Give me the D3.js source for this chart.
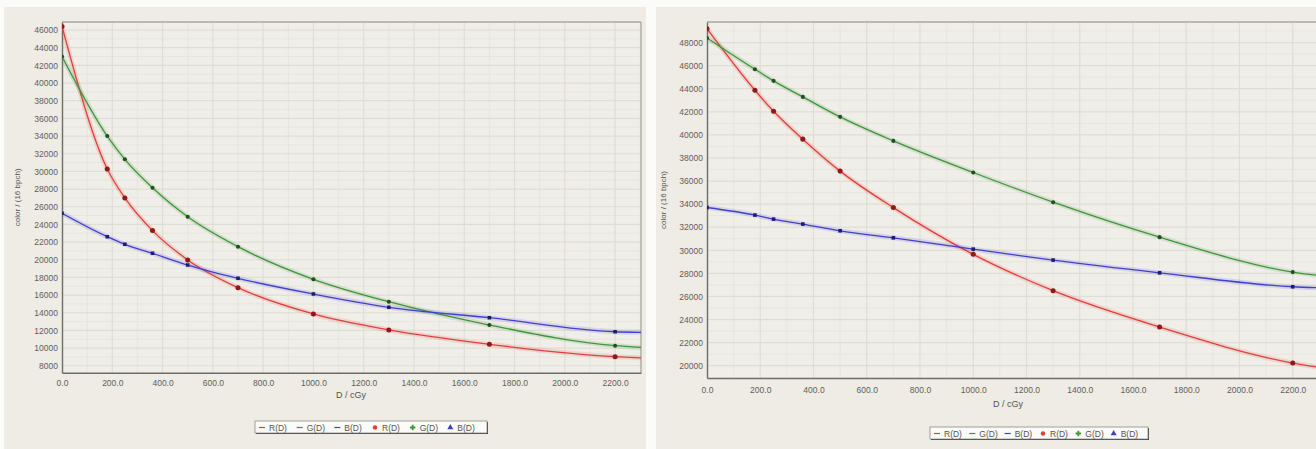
<!DOCTYPE html>
<html>
<head>
<meta charset="utf-8">
<script src="https://cdn.jsdelivr.net/npm/d3@7"></script>
<style>
  body { margin: 0; background: #fbfbf9; }
  svg { display: block; font-family: "Liberation Sans", Arial, sans-serif; }
</style>
</head>
<body>
<svg id="chart" width="1316" height="449"></svg>
<script>
// dose values (cGy) where the samples were measured
const doses = [0, 180, 250, 360, 500, 700, 1000, 1300, 1700, 2200];

// left chart
const leftR = [46400, 30270, 27000, 23300, 19980, 16840, 13860, 12050, 10430, 9030];
const leftG = [43000, 34000, 31370, 28150, 24870, 21480, 17790, 15250, 12610, 10270];
const leftB = [25260, 22610, 21750, 20730, 19400, 17900, 16120, 14620, 13440, 11850];
// fitted curves where they hit the right border (R, G, B)
const leftFitEnd = [8900, 10080, 11780];

// right chart
const rightR = [49200, 43870, 42050, 39630, 36860, 33700, 29650, 26500, 23350, 20230];
const rightG = [48400, 45690, 44680, 43290, 41560, 39480, 36740, 34170, 31140, 28110];
const rightB = [33710, 33050, 32700, 32270, 31690, 31080, 30100, 29150, 28050, 26840];
const rightFitEnd = [19720, 27700, 26730];

const xTicks = d3.range(0, 2201, 200);
const leftYTicks = d3.range(8000, 46001, 2000);
const rightYTicks = d3.range(20000, 48001, 2000);
const legendLabels = ["R(D)", "G(D)", "B(D)"];

const svg = d3.select("#chart");

const colors = [
  { line: "#e0403c", dot: "#8e1b1b", symbol: d3.symbolCircle },
  { line: "#3f963a", dot: "#234d22", symbol: d3.symbolCircle },
  { line: "#4040cc", dot: "#1d1d70", symbol: d3.symbolSquare }
];

function drawPanel(p) {
  const root = svg.append("g");

  // panel background
  root.append("rect")
    .attr("x", p.bx).attr("y", 7).attr("width", p.bw).attr("height", 442)
    .attr("fill", "#eeece5");

  const x = d3.scaleLinear().domain(p.xDomain).range([p.left, p.right]);
  const y = d3.scaleLinear().domain(p.yDomain).range([p.bottom, p.top]);

  const clipId = "clip" + p.id;
  root.append("clipPath").attr("id", clipId)
    .append("rect")
    .attr("x", p.left).attr("y", p.top)
    .attr("width", p.right - p.left).attr("height", p.bottom - p.top);

  root.append("rect")
    .attr("x", p.left).attr("y", p.top)
    .attr("width", p.right - p.left).attr("height", p.bottom - p.top)
    .attr("fill", "#f0eee8");

  // grid
  const grid = root.append("g").attr("clip-path", `url(#${clipId})`);
  const minorX = d3.range(100, p.xDomain[1], 200);
  const minorY = p.yTicks.map(v => v + 1000);
  grid.selectAll("line.mx").data(minorX).join("line")
    .attr("x1", d => x(d)).attr("x2", d => x(d))
    .attr("y1", p.top).attr("y2", p.bottom)
    .attr("stroke", "#e8e5de").attr("stroke-width", 1);
  grid.selectAll("line.my").data(minorY).join("line")
    .attr("y1", d => y(d)).attr("y2", d => y(d))
    .attr("x1", p.left).attr("x2", p.right)
    .attr("stroke", "#e8e5de").attr("stroke-width", 1);
  grid.selectAll("line.gx").data(xTicks.concat([2400])).join("line")
    .attr("x1", d => x(d)).attr("x2", d => x(d))
    .attr("y1", p.top).attr("y2", p.bottom)
    .attr("stroke", "#e0ddd5").attr("stroke-width", 1.2);
  grid.selectAll("line.gy").data(p.yTicks).join("line")
    .attr("y1", d => y(d)).attr("y2", d => y(d))
    .attr("x1", p.left).attr("x2", p.right)
    .attr("stroke", "#e0ddd5").attr("stroke-width", 1.2);

  // frame
  root.append("line").attr("x1", p.left).attr("x2", p.right)
    .attr("y1", p.top).attr("y2", p.top)
    .attr("stroke", "#a9a7a1").attr("stroke-width", 1.3);
  if (p.rightBorder) {
    root.append("line").attr("x1", p.right).attr("x2", p.right)
      .attr("y1", p.top).attr("y2", p.bottom)
      .attr("stroke", "#a9a7a1").attr("stroke-width", 1.3);
  }

  // axes
  const xAxis = d3.axisBottom(x).tickValues(xTicks)
    .tickFormat(d3.format(".1f")).tickSize(0).tickPadding(p.xPad);
  const yAxis = d3.axisLeft(y).tickValues(p.yTicks)
    .tickFormat(d => d).tickSize(0).tickPadding(4);

  const gx = root.append("g").attr("transform", `translate(0,${p.bottom})`).call(xAxis);
  const gy = root.append("g").attr("transform", `translate(${p.left},0)`).call(yAxis);
  [gx, gy].forEach(g => {
    g.select(".domain").attr("stroke", "#6d6c68").attr("stroke-width", 1.4);
    g.selectAll("text").attr("fill", "#5f5e5a").attr("font-size", 8.5);
  });

  root.append("text")
    .attr("x", p.xTitleX).attr("y", p.xTitleY)
    .attr("text-anchor", "middle").attr("font-size", 9).attr("fill", "#55544f")
    .text("D / cGy");
  root.append("text")
    .attr("transform", `translate(${p.yTitleX},${(p.top + p.bottom) / 2}) rotate(-90)`)
    .attr("text-anchor", "middle").attr("font-size", 8).attr("fill", "#55544f")
    .text("color / (16 bpch)");

  // curves and points
  const plot = root.append("g").attr("clip-path", `url(#${clipId})`);
  const line = d3.line().x(d => x(d[0])).y(d => y(d[1])).curve(d3.curveMonotoneX);

  p.series.forEach((vals, i) => {
    const pts = doses.map((d, j) => [d, vals[j]]);
    pts.push([p.xDomain[1], p.fitEnd[i]]);
    plot.append("path").datum(pts)
      .attr("d", line).attr("fill", "none")
      .attr("stroke", colors[i].line).attr("stroke-opacity", 0.15)
      .attr("stroke-width", 5);
    plot.append("path").datum(pts)
      .attr("d", line).attr("fill", "none")
      .attr("stroke", colors[i].line).attr("stroke-width", 1.3);
  });

  p.series.forEach((vals, i) => {
    plot.selectAll(null).data(doses.map((d, j) => [d, vals[j]])).join("path")
      .attr("transform", d => `translate(${x(d[0])},${y(d[1])})`)
      .attr("d", d3.symbol().type(colors[i].symbol).size(i === 0 ? 20 : 13))
      .attr("fill", colors[i].dot);
  });

  // legend
  const lg = root.append("g").attr("transform", `translate(${p.legX},${p.legY})`);
  lg.append("rect").attr("x", 1).attr("y", 1).attr("width", p.legW).attr("height", 12)
    .attr("fill", "#3a3a3a");
  lg.append("rect").attr("width", p.legW).attr("height", 12)
    .attr("fill", "#fbfbfa").attr("stroke", "#8a8a86").attr("stroke-width", 0.8);
  const step = (p.legW - 6) / 6;
  const legSymbols = [d3.symbolCircle, d3.symbolCross, d3.symbolTriangle];
  for (let k = 0; k < 6; k++) {
    const i = k % 3;
    const ix = 4 + k * step;
    if (k < 3) {
      lg.append("line").attr("x1", ix).attr("x2", ix + 6)
        .attr("y1", 6.5).attr("y2", 6.5)
        .attr("stroke", colors[i].line).attr("stroke-width", 1.2);
    } else {
      lg.append("path").attr("transform", `translate(${ix + 3},6.5)`)
        .attr("d", d3.symbol().type(legSymbols[i]).size(16))
        .attr("fill", colors[i].line);
    }
    lg.append("text").attr("x", ix + 10).attr("y", 9.8)
      .attr("font-size", 8.5).attr("fill", "#55544f")
      .text(legendLabels[i]);
  }
}

drawPanel({
  id: "L", bx: 4, bw: 642,
  left: 62, right: 641, top: 22, bottom: 372.7,
  xDomain: [0, 2303], yDomain: [7215, 46910], yTicks: leftYTicks,
  series: [leftR, leftG, leftB], fitEnd: leftFitEnd, rightBorder: true,
  xPad: 7, xTitleX: 351, xTitleY: 398, yTitleX: 20,
  legX: 255, legY: 421, legW: 232
});

drawPanel({
  id: "R", bx: 656, bw: 660,
  left: 707, right: 1330, top: 22, bottom: 378,
  xDomain: [0, 2340], yDomain: [18935, 49780], yTicks: rightYTicks,
  series: [rightR, rightG, rightB], fitEnd: rightFitEnd, rightBorder: false,
  xPad: 9, xTitleX: 1008, xTitleY: 407, yTitleX: 666,
  legX: 930, legY: 427, legW: 218
});
</script>
</body>
</html>
